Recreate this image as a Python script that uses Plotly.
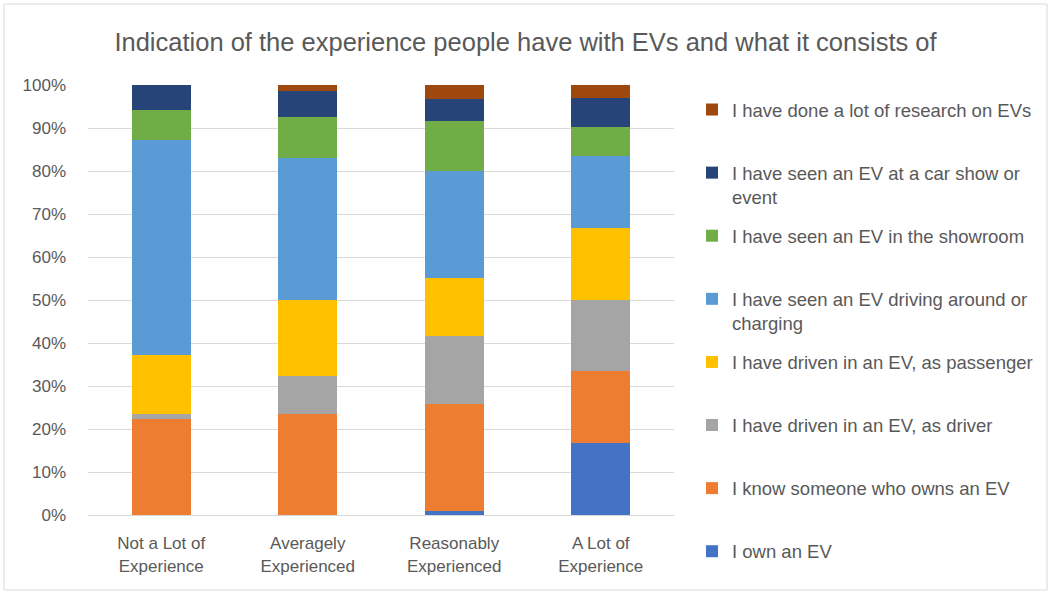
import plotly.graph_objects as go

categories = ["Not a Lot of<br>Experience", "Averagely<br>Experienced",
              "Reasonably<br>Experienced", "A Lot of<br>Experience"]

own_ev = [0.0, 0.0, 0.9, 16.7]
know_someone = [22.4, 23.4, 25.0, 16.7]
driven_driver = [1.0, 8.9, 15.7, 16.7]
driven_passenger = [13.7, 17.6, 13.5, 16.7]
seen_driving = [50.0, 33.2, 24.9, 16.6]
seen_showroom = [7.0, 9.4, 11.6, 6.8]
seen_carshow = [5.9, 6.0, 5.2, 6.7]
research = [0.0, 1.5, 3.2, 3.3]

series_names = [
    "I own an EV",
    "I know someone who owns an EV",
    "I have driven in an EV, as driver",
    "I have driven in an EV, as passenger",
    "I have seen an EV driving around or<br>charging",
    "I have seen an EV in the showroom",
    "I have seen an EV at a car show or<br>event",
    "I have done a lot of research on EVs",
]
series_values = [own_ev, know_someone, driven_driver, driven_passenger,
                 seen_driving, seen_showroom, seen_carshow, research]
colors = ["#4472C4", "#ED7D31", "#A5A5A5", "#FFC000",
          "#5B9BD5", "#70AD47", "#264478", "#9E480E"]

fig = go.Figure()
n = len(series_names)
for i, (name, vals, col) in enumerate(zip(series_names, series_values, colors)):
    label = name if ("<br>" in name or i == 0) else name + "<br>&nbsp;"
    fig.add_trace(go.Bar(
        x=categories, y=vals, name=label, marker_color=col,
        marker_line_width=0, width=0.4, legendgroup=f"g{i}",
        legendrank=n - i,
    ))

FONT = "Liberation Sans, Arial, sans-serif"
TXT = "#595959"

W, H = 1051, 592
ML, MR, MT, MB = 88, 377, 5, 5
PW, PH = W - ML - MR, H - MT - MB
AXIS_TOP, AXIS_BOTTOM = 85, 515

fig.update_layout(
    barmode="stack",
    width=W, height=H,
    margin=dict(l=ML, r=MR, t=MT, b=MB, autoexpand=False),
    paper_bgcolor="white", plot_bgcolor="white",
    font=dict(family=FONT, color=TXT, size=17),
    title=dict(text="Indication of the experience people have with EVs and what it consists of",
               x=0.5, xref="container", xanchor="center",
               y=1 - 42 / H, yref="container", yanchor="middle",
               font=dict(size=25.5, color=TXT, family=FONT)),
    legend=dict(
        xref="container", yref="paper",
        x=692 / W, xanchor="left",
        y=((H - MB) - 91) / PH, yanchor="top",
        traceorder="grouped", tracegroupgap=12,
        valign="top", font=dict(size=18.5, color=TXT, family=FONT),
        bgcolor="rgba(0,0,0,0)", itemclick=False,
    ),
    showlegend=True,
)
fig.update_yaxes(range=[0, 100], dtick=10, ticksuffix="%",
                 domain=[(H - MB - AXIS_BOTTOM) / PH, (H - MB - AXIS_TOP) / PH],
                 showgrid=True, gridcolor="#D9D9D9", gridwidth=1,
                 zeroline=False, showline=False, ticklabelstandoff=21,
                 tickfont=dict(size=17, color=TXT))
fig.update_xaxes(showline=True, linecolor="#D9D9D9", linewidth=1,
                 tickfont=dict(size=17, color=TXT), ticklabelstandoff=13)

fig.add_shape(type="rect", xref="paper", yref="paper",
              x0=(4 - ML) / PW, x1=(1047 - ML) / PW,
              y0=((H - MB) - 590) / PH, y1=((H - MB) - 4) / PH,
              line=dict(color="#D9D9D9", width=1), fillcolor="rgba(0,0,0,0)",
              layer="below")

fig.write_html("out.html", config={"displayModeBar": False},
               post_script="document.body.style.margin='0';")
